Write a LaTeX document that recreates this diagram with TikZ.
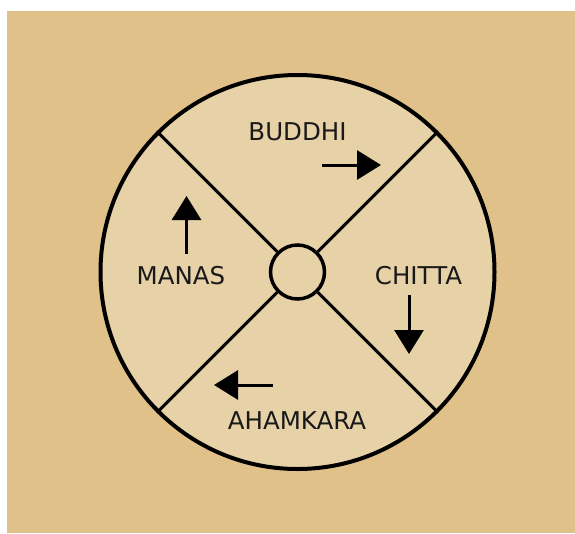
\documentclass[tikz,border=0pt]{standalone}
\usepackage{fontspec}
\setmainfont{DejaVu Sans}
\usetikzlibrary{arrows.meta}
\definecolor{bgtan}{RGB}{223,193,137}
\definecolor{wheelfill}{RGB}{231,209,167}
\definecolor{txt}{RGB}{25,25,25}
\begin{document}
\begin{tikzpicture}[x=1pt,y=-1pt,
  wheel/.style={circle,draw=black,line width=4pt,fill=wheelfill,minimum size=394pt,inner sep=0pt},
  hubc/.style={circle,draw=black,line width=3.5pt,fill=wheelfill,minimum size=54pt,inner sep=0pt},
  spoke/.style={line width=3pt,black},
  flow/.style={line width=3pt,black,-{Triangle[length=24pt,width=29pt]}},
  lbl/.style={font=\fontsize{24.5}{28}\selectfont,text=txt,inner sep=0pt}]
\fill[white] (0,0) rectangle (575,533);
\fill[bgtan] (7,11) rectangle (575,533);
\useasboundingbox (0,0) rectangle (575,533);
\node[wheel] (outer) at (297.5,272) {};
\node[hubc] (hub) at (297.5,272) {};
\foreach \a in {45,135,225,315}
  \draw[spoke] (hub.\a) -- (outer.\a);
\node[lbl] (buddhi) at (297.5,131.5) {BUDDHI};
\node[lbl] (manas) at (181,275.5) {MANAS};
\node[lbl] (chitta) at (418.5,275.5) {CHITTA};
\node[lbl] (ahamkara) at (297,421) {AHAMKARA};
\coordinate (b1) at (322,165); \coordinate (b2) at (381,165);
\coordinate (m1) at (186.5,254); \coordinate (m2) at (186.5,196);
\coordinate (c1) at (409,295); \coordinate (c2) at (409,354);
\coordinate (a1) at (273,385); \coordinate (a2) at (214,385);
\draw[flow] (b1) -- (b2);
\draw[flow] (m1) -- (m2);
\draw[flow] (c1) -- (c2);
\draw[flow] (a1) -- (a2);
\end{tikzpicture}
\end{document}
